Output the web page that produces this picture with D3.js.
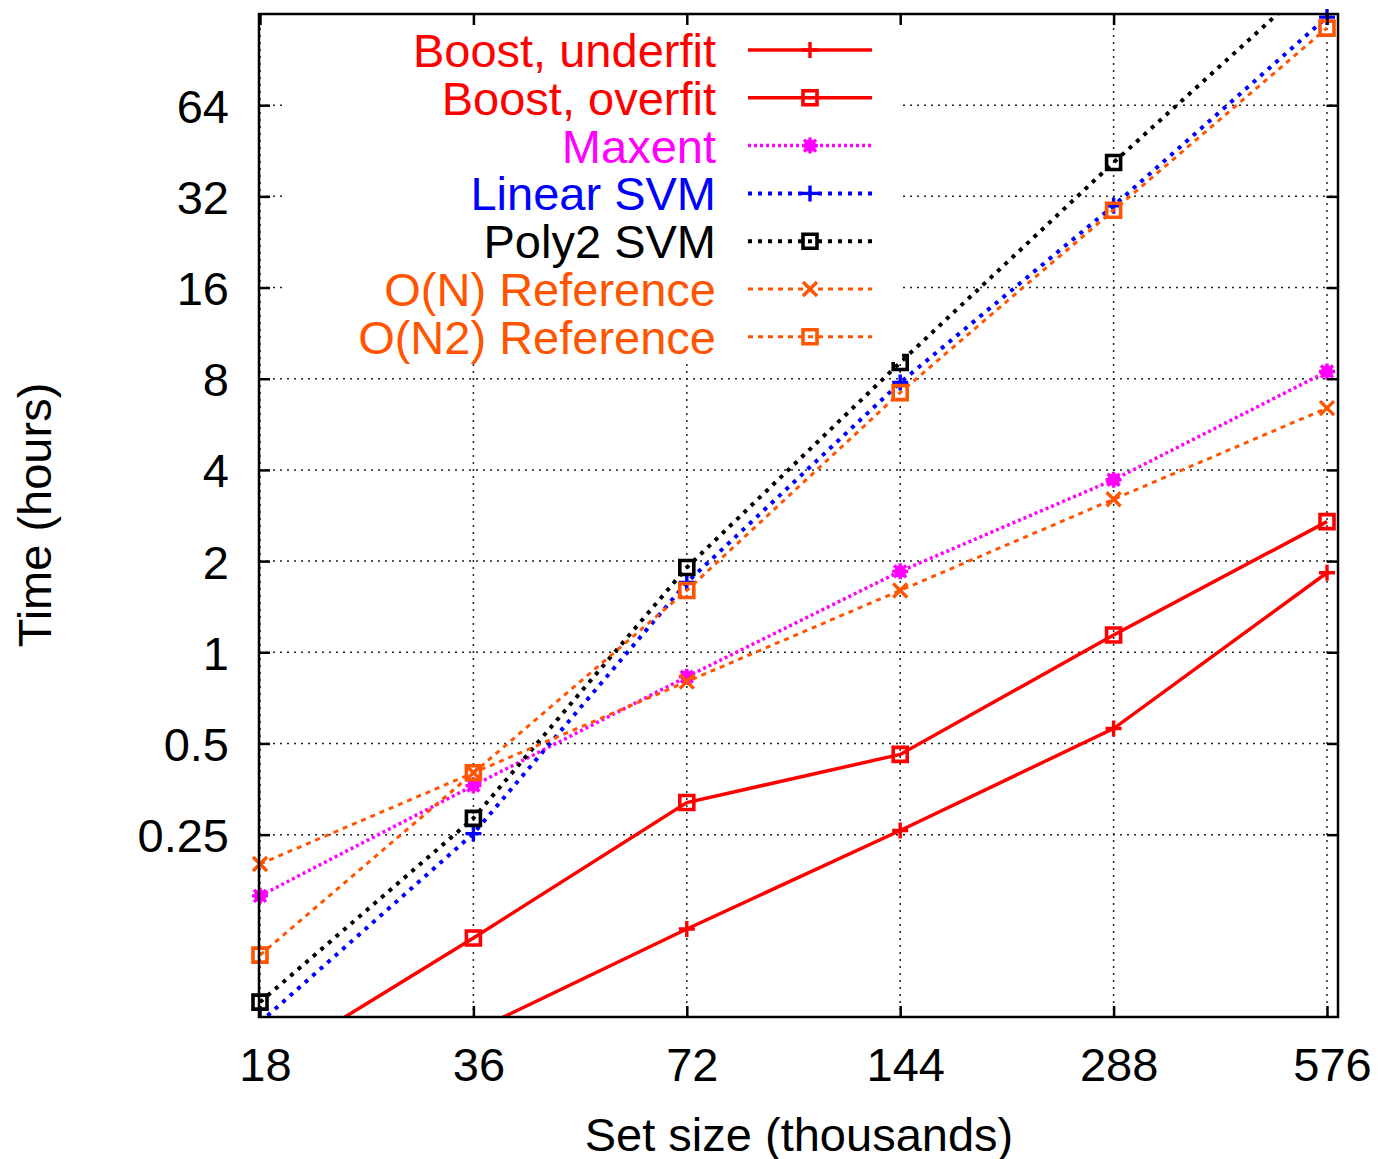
<!DOCTYPE html>
<html>
<head>
<meta charset="utf-8">
<script src="https://cdn.jsdelivr.net/npm/d3@7"></script>
<style>
  body { margin: 0; background: #fff; }
  text { font-family: "Liberation Sans", Arial, sans-serif; }
</style>
</head>
<body>
<div id="chart"></div>
<script>
// data (time in hours, set size in thousands)
var sizes = [18, 36, 72, 144, 288, 576];
var boostUnderfit = [0.026, 0.056, 0.122, 0.258, 0.56, 1.83];
var boostOverfit = [0.042, 0.114, 0.319, 0.46, 1.14, 2.70];
var maxent = [0.157, 0.363, 0.83, 1.85, 3.71, 8.45];
var linearSvm = [0.06, 0.252, 1.70, 7.77, 29.8, 125];
var poly2Svm = [0.07, 0.283, 1.905, 9.05, 41.4, 180];
var onReference = [0.2, 0.4, 0.8, 1.6, 3.2, 6.4];
var on2Reference = [0.1, 0.4, 1.6, 7.2, 28.8, 115];

var seriesNames = ["Boost, underfit", "Boost, overfit", "Maxent", "Linear SVM",
    "Poly2 SVM", "O(N) Reference", "O(N2) Reference"];
var seriesValues = [boostUnderfit, boostOverfit, maxent, linearSvm, poly2Svm, onReference, on2Reference];

var yTicks = [0.25, 0.5, 1, 2, 4, 8, 16, 32, 64];
var yTickLabels = ["0.25", "0.5", "1", "2", "4", "8", "16", "32", "64"];
var xTickLabels = ["18", "36", "72", "144", "288", "576"];

// look of each series
var styles = [
    {color: "#ff0000", dash: null, width: 3.5, mark: "plus"},
    {color: "#ff0000", dash: null, width: 3.5, mark: "square"},
    {color: "#ff00ff", dash: "3,3", width: 3.5, mark: "star"},
    {color: "#0000ff", dash: "4,6", width: 4, mark: "plus"},
    {color: "#000000", dash: "4,6", width: 4, mark: "square"},
    {color: "#ff5500", dash: "5,5", width: 3, mark: "cross"},
    {color: "#ff5500", dash: "5,5", width: 3, mark: "square"}
];

var svgWidth = 1378;
var svgHeight = 1159;

// plot frame (named so they don't clash with window.top)
var frame = {left: 259, right: 1338, top: 14, bottom: 1017};

var svg = d3.select("#chart")
    .append("svg")
    .attr("width", svgWidth)
    .attr("height", svgHeight);

// log2 scales
var x = d3.scaleLog().base(2)
    .domain([18, 576])
    .range([260, 1327]);

var y = d3.scaleLog().base(2)
    .domain([1 / 16, 128])
    .range([frame.bottom, frame.top]);

// grid
var grid = svg.append("g")
    .attr("stroke", "#222")
    .attr("stroke-width", 1.5)
    .attr("stroke-dasharray", "2,5");

grid.selectAll(".gy").data(yTicks).enter().append("line")
    .attr("x1", frame.left).attr("x2", frame.right)
    .attr("y1", d => y(d)).attr("y2", d => y(d));

grid.selectAll(".gx").data(sizes).enter().append("line")
    .attr("x1", d => x(d)).attr("x2", d => x(d))
    .attr("y1", frame.top).attr("y2", frame.bottom);

// clip lines to the frame
svg.append("clipPath").attr("id", "clip")
    .append("rect")
    .attr("x", frame.left).attr("y", frame.top)
    .attr("width", frame.right - frame.left).attr("height", frame.bottom - frame.top);

var line = d3.line()
    .x(d => x(d[0]))
    .y(d => y(d[1]));

function markPath(kind) {
    if (kind == "plus") return "M-8,0H8M0,-8V8";
    if (kind == "cross") return "M-7,-7L7,7M-7,7L7,-7";
    if (kind == "star") return "M-8,0H8M0,-8V8M-6,-6L6,6M-6,6L6,-6M-4,-4H4V4H-4Z";
    return "M-7,-7H7V7H-7Z";
}

seriesValues.forEach(function(vals, i) {
    var st = styles[i];
    var pts = sizes.map((s, j) => [s, vals[j]]);

    svg.append("path")
        .datum(pts)
        .attr("clip-path", "url(#clip)")
        .attr("fill", "none")
        .attr("stroke", st.color)
        .attr("stroke-width", st.width)
        .attr("stroke-dasharray", st.dash)
        .attr("d", line);

    // gnuplot leaves out points that are out of range
    svg.selectAll(".m" + i)
        .data(pts.filter(p => p[1] >= y.domain()[0] && p[1] <= y.domain()[1]))
        .enter()
        .append("path")
        .attr("transform", p => `translate(${x(p[0])},${y(p[1])})`)
        .attr("d", markPath(st.mark))
        .attr("fill", st.mark == "star" ? st.color : "none")
        .attr("stroke", st.color)
        .attr("stroke-width", st.mark == "square" ? 3.6 : 3.4);
});

// key with opaque background
svg.append("rect")
    .attr("x", 283).attr("y", frame.top)
    .attr("width", 902 - 283).attr("height", 362 - frame.top)
    .attr("fill", "#fff");

var key = svg.selectAll(".key")
    .data(seriesNames)
    .enter()
    .append("g")
    .attr("transform", (d, i) => `translate(0, ${50 + i * 47.8})`);

key.append("text")
    .attr("x", 716)
    .attr("dy", "0.36em")
    .attr("text-anchor", "end")
    .attr("font-size", "47px")
    .attr("fill", (d, i) => styles[i].color)
    .text(d => d);

key.append("line")
    .attr("x1", 748).attr("x2", 872)
    .attr("stroke", (d, i) => styles[i].color)
    .attr("stroke-width", (d, i) => styles[i].width)
    .attr("stroke-dasharray", (d, i) => styles[i].dash);

key.append("path")
    .attr("transform", "translate(810,0)")
    .attr("d", (d, i) => markPath(styles[i].mark))
    .attr("fill", (d, i) => styles[i].mark == "star" ? styles[i].color : "none")
    .attr("stroke", (d, i) => styles[i].color)
    .attr("stroke-width", (d, i) => styles[i].mark == "square" ? 3.6 : 3.4);

// axes with inward ticks
var axisLeft = d3.axisLeft(y)
    .tickValues(yTicks)
    .tickFormat((d, i) => yTickLabels[i])
    .tickSize(-11)
    .tickPadding(30);

var axisRight = d3.axisRight(y)
    .tickValues(yTicks)
    .tickFormat("")
    .tickSize(-11);

var axisBottom = d3.axisBottom(x)
    .tickValues(sizes)
    .tickFormat((d, i) => xTickLabels[i])
    .tickSize(-11)
    .tickPadding(31);

var axisTop = d3.axisTop(x)
    .tickValues(sizes)
    .tickFormat("")
    .tickSize(-11);

var gl = svg.append("g").attr("transform", `translate(${frame.left},0)`).call(axisLeft);
var gr = svg.append("g").attr("transform", `translate(${frame.right},0)`).call(axisRight);
var gb = svg.append("g").attr("transform", `translate(0,${frame.bottom})`).call(axisBottom);
var gt = svg.append("g").attr("transform", `translate(0,${frame.top})`).call(axisTop);

[gl, gr, gb, gt].forEach(function(g) {
    g.select(".domain").remove();
    g.selectAll(".tick line").attr("stroke", "#000").attr("stroke-width", 2.5);
    g.selectAll("text")
        .attr("font-family", "Liberation Sans, Arial, sans-serif")
        .attr("font-size", "47px")
        .attr("fill", "#000");
});
gl.selectAll("text").attr("dy", "0.36em");
gb.selectAll("text").attr("dx", 5);

// border
svg.append("rect")
    .attr("x", frame.left).attr("y", frame.top)
    .attr("width", frame.right - frame.left).attr("height", frame.bottom - frame.top)
    .attr("fill", "none")
    .attr("stroke", "#000")
    .attr("stroke-width", 2.5);

// axis titles
svg.append("text")
    .attr("transform", "translate(51, 515) rotate(-90)")
    .attr("text-anchor", "middle")
    .attr("font-size", "47px")
    .text("Time (hours)");

svg.append("text")
    .attr("x", 799)
    .attr("y", 1151)
    .attr("text-anchor", "middle")
    .attr("font-size", "47px")
    .text("Set size (thousands)");
</script>
</body>
</html>
